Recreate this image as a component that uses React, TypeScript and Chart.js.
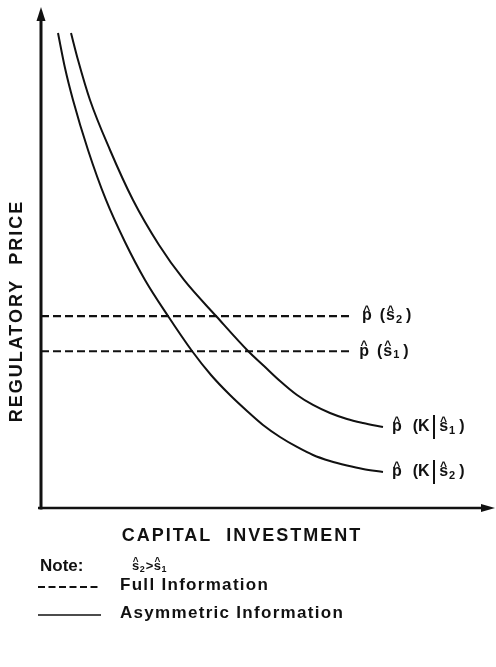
import { useEffect, useRef } from "react";
import { Chart, registerables } from "chart.js";

Chart.register(...registerables);

// ---- Data (arbitrary units 0..100) ----
// Asymmetric-information price curve p(K | s1)
const capitalS1 = [6.64, 8.19, 10.84, 15.27, 20.35, 26.11, 31.64, 38.72, 45.8, 49.34, 52.88, 56.64, 60.18, 63.94, 67.7, 71.24, 75.66];
const priceS1 = [94.81, 89.42, 81.44, 71.46, 61.48, 52.5, 45.51, 38.32, 31.34, 28.34, 25.35, 22.55, 20.56, 18.96, 17.76, 16.97, 16.17];
// Asymmetric-information price curve p(K | s2)
const capitalS2 = [3.76, 5.31, 7.08, 10.4, 14.38, 18.58, 23.01, 28.1, 33.41, 37.61, 41.81, 45.58, 49.12, 52.88, 56.64, 60.18, 63.94, 67.7, 71.24, 75.66];
const priceS2 = [94.81, 87.82, 81.44, 71.46, 61.48, 53.09, 45.51, 38.32, 31.34, 26.55, 22.55, 19.36, 16.57, 14.17, 12.18, 10.58, 9.38, 8.48, 7.78, 7.19];
// Full-information prices p(s2), p(s1): level and end of the dashed line
const fullInfoLevels = [38.3, 31.3];
const fullInfoEnds = [69.0, 68.4];
const fullInfoSub = ["2", "1"];
const curveSub = ["1", "2"];

const xTitle = "CAPITAL  INVESTMENT";
const yTitle = "REGULATORY  PRICE";
const legendFull = "Full Information";
const legendAsym = "Asymmetric Information";
const noteLabel = "Note:";

const FONT = '"Liberation Sans", Arial, Helvetica, sans-serif';
const INK = "#111";

type Part = { t: string; hat?: boolean; sub?: boolean; big?: boolean; gap?: number };

function drawParts(ctx: CanvasRenderingContext2D, parts: Part[], x: number, y: number, size: number, weight = "bold") {
  let cx = x;
  const base = y + size * 0.27;
  for (const p of parts) {
    if (p.gap) cx += p.gap;
    let fs = size;
    let b = base;
    let wt = weight;
    if (p.sub) {
      fs = Math.round(size * 0.7);
      b = base + size * 0.18;
    }
    if (p.big) {
      fs = Math.round(size * 1.55);
      b = y + fs * 0.3;
      wt = "normal";
    }
    ctx.font = `${wt} ${fs}px ${FONT}`;
    ctx.textAlign = "left";
    ctx.textBaseline = "alphabetic";
    ctx.fillText(p.t, cx, b);
    const w = ctx.measureText(p.t).width;
    if (p.hat) {
      ctx.font = `bold ${Math.round(size * 0.75)}px ${FONT}`;
      ctx.textAlign = "center";
      const m = ctx.measureText("^");
      const hatBottom = b - size * 0.6;
      ctx.fillText("^", cx + w / 2, hatBottom - m.actualBoundingBoxDescent);
      ctx.textAlign = "left";
    }
    cx += w;
  }
}

const decor = {
  id: "figureDecor",
  afterDraw(chart: any) {
    const ctx: CanvasRenderingContext2D = chart.ctx;
    const { left, right, top, bottom } = chart.chartArea;
    const xs = chart.scales.x;
    const ys = chart.scales.y;
    ctx.save();
    ctx.strokeStyle = INK;
    ctx.fillStyle = INK;
    ctx.setLineDash([]);

    // y axis with arrow
    ctx.lineWidth = 3;
    ctx.beginPath();
    ctx.moveTo(left, bottom + 1.5);
    ctx.lineTo(left, top + 10);
    ctx.stroke();
    ctx.beginPath();
    ctx.moveTo(left, top);
    ctx.lineTo(left - 4.5, top + 14);
    ctx.lineTo(left + 4.5, top + 14);
    ctx.closePath();
    ctx.fill();

    // x axis with arrow
    ctx.lineWidth = 2.6;
    ctx.beginPath();
    ctx.moveTo(left - 3, bottom);
    ctx.lineTo(right - 8, bottom);
    ctx.stroke();
    ctx.beginPath();
    ctx.moveTo(right + 2, bottom);
    ctx.lineTo(right - 12, bottom - 4);
    ctx.lineTo(right - 12, bottom + 4);
    ctx.closePath();
    ctx.fill();

    // labels at the ends of the dashed lines
    fullInfoLevels.forEach((lv, i) => {
      const px = xs.getPixelForValue(fullInfoEnds[i]) + 9;
      const py = ys.getPixelForValue(lv);
      drawParts(
        ctx,
        [
          { t: "p", hat: true },
          { t: "(", gap: 8 },
          { t: "s", hat: true, gap: 1 },
          { t: fullInfoSub[i], sub: true, gap: 1 },
          { t: ")", gap: 4 },
        ],
        px,
        py,
        16
      );
    });

    // labels at the ends of the curves
    [
      [capitalS1, priceS1],
      [capitalS2, priceS2],
    ].forEach(([ks, ps], i) => {
      const n = ks.length - 1;
      const px = xs.getPixelForValue(ks[n]) + 9;
      const py = ys.getPixelForValue(ps[n]);
      drawParts(
        ctx,
        [
          { t: "p", hat: true },
          { t: "(", gap: 11 },
          { t: "K" },
          { t: "|", big: true, gap: 1 },
          { t: "s", hat: true, gap: 2 },
          { t: curveSub[i], sub: true, gap: 1 },
          { t: ")", gap: 4 },
        ],
        px,
        py,
        16
      );
    });

    // axis titles
    ctx.font = `bold 18px ${FONT}`;
    (ctx as any).letterSpacing = "2px";
    ctx.textAlign = "center";
    ctx.textBaseline = "middle";
    ctx.fillText(xTitle, 242, 536);
    ctx.save();
    ctx.translate(17, 311);
    ctx.rotate(-Math.PI / 2);
    ctx.fillText(yTitle, 0, 0);
    ctx.restore();

    // note + legend
    (ctx as any).letterSpacing = "0px";
    ctx.font = `bold 17px ${FONT}`;
    ctx.textAlign = "left";
    ctx.textBaseline = "middle";
    ctx.fillText(noteLabel, 40, 566);
    drawParts(
      ctx,
      [
        { t: "s", hat: true },
        { t: "2", sub: true, gap: 0.5 },
        { t: ">", gap: 1 },
        { t: "s", hat: true, gap: 0.5 },
        { t: "1", sub: true, gap: 0.5 },
      ],
      132,
      566,
      13
    );

    ctx.font = `bold 17px ${FONT}`;
    (ctx as any).letterSpacing = "1.3px";
    ctx.textAlign = "left";
    ctx.textBaseline = "middle";
    ctx.fillText(legendFull, 120, 585);
    ctx.fillText(legendAsym, 120, 613);
    (ctx as any).letterSpacing = "0px";

    ctx.lineWidth = 2;
    ctx.setLineDash([7, 3.5]);
    ctx.beginPath();
    ctx.moveTo(38, 587);
    ctx.lineTo(101, 587);
    ctx.stroke();
    ctx.setLineDash([]);
    ctx.lineWidth = 1.6;
    ctx.beginPath();
    ctx.moveTo(38, 615);
    ctx.lineTo(101, 615);
    ctx.stroke();

    ctx.restore();
  },
};

export default function App() {
  const ref = useRef<HTMLCanvasElement | null>(null);

  useEffect(() => {
    if (!ref.current) return;
    const curve = (ks: number[], ps: number[]) => ks.map((k, i) => ({ x: k, y: ps[i] }));
    const curveStyle = {
      borderColor: INK,
      borderWidth: 2,
      pointRadius: 0,
      fill: false,
      cubicInterpolationMode: "monotone" as const,
    };
    const dashStyle = {
      borderColor: INK,
      borderWidth: 2.1,
      borderDash: [8, 4],
      pointRadius: 0,
      fill: false,
    };
    const chart = new Chart(ref.current, {
      type: "line",
      data: {
        datasets: [
          { label: "p(K|s1)", data: curve(capitalS1, priceS1), ...curveStyle },
          { label: "p(K|s2)", data: curve(capitalS2, priceS2), ...curveStyle },
          ...fullInfoLevels.map((lv, i) => ({
            label: `p(s${fullInfoSub[i]})`,
            data: [
              { x: 0, y: lv },
              { x: fullInfoEnds[i], y: lv },
            ],
            ...dashStyle,
          })),
        ],
      },
      options: {
        animation: false,
        responsive: true,
        maintainAspectRatio: false,
        layout: { padding: { left: 41, right: 3, top: 7, bottom: 159 } },
        scales: {
          x: { type: "linear", min: 0, max: 100, display: false },
          y: { type: "linear", min: 0, max: 100, display: false },
        },
        plugins: { legend: { display: false }, tooltip: { enabled: false } },
        events: [],
      },
      plugins: [decor],
    });
    return () => chart.destroy();
  }, []);

  return (
    <div style={{ position: "absolute", left: 0, top: 0, width: 496, height: 667, background: "#fff" }}>
      <canvas ref={ref} />
    </div>
  );
}
